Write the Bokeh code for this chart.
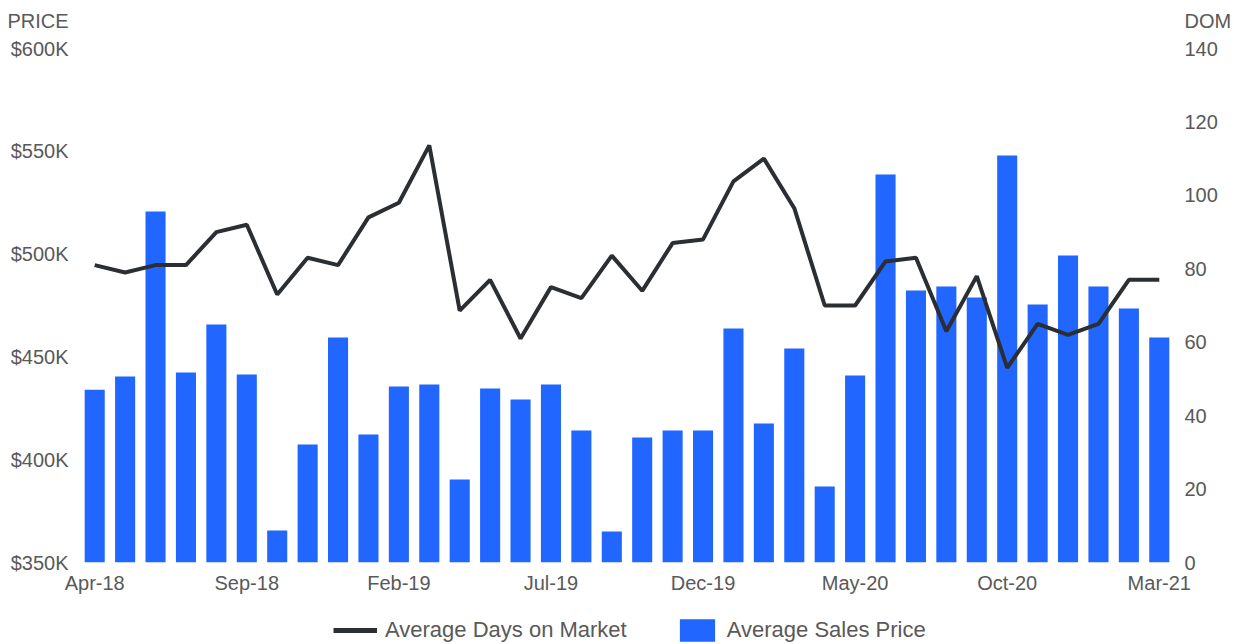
from bokeh.plotting import figure
from bokeh.layouts import column
from bokeh.models import Range1d, LinearAxis, FixedTicker, Legend, LegendItem
from bokeh.embed import file_html
from bokeh.resources import INLINE

months = ["Apr-18", "May-18", "Jun-18", "Jul-18", "Aug-18", "Sep-18", "Oct-18", "Nov-18",
          "Dec-18", "Jan-19", "Feb-19", "Mar-19", "Apr-19", "May-19", "Jun-19", "Jul-19",
          "Aug-19", "Sep-19", "Oct-19", "Nov-19", "Dec-19", "Jan-20", "Feb-20", "Mar-20",
          "Apr-20", "May-20", "Jun-20", "Jul-20", "Aug-20", "Sep-20", "Oct-20", "Nov-20",
          "Dec-20", "Jan-21", "Feb-21", "Mar-21"]

avg_sales_price = [434000, 440500, 520700, 442400, 465800, 441400, 365600, 407400,
                   459400, 412300, 435600, 436600, 390400, 434600, 429300, 436600,
                   414200, 365100, 410800, 414200, 414200, 463800, 417600, 454100,
                   387000, 441000, 538700, 482300, 484200, 478900, 548000, 475500,
                   499300, 484200, 473500, 459400]

avg_days_on_market = [81, 79, 81, 81, 90, 92, 73, 83,
                      81, 94, 98, 113.6, 68.6, 77, 61, 75,
                      72, 83.6, 74, 87, 88, 103.8, 110, 96.5,
                      70, 70, 82, 83, 63, 78, 53, 65,
                      62, 65, 77, 77]

price_ticks = [350000, 400000, 450000, 500000, 550000, 600000]
dom_ticks = [0, 20, 40, 60, 80, 100, 120, 140]
x_label_every = 5
left_title = "PRICE"
right_title = "DOM"
legend_labels = ["Average Days on Market", "Average Sales Price"]

TEXT_COLOR = "#595959"
FONT = "Liberation Sans"
BAR_COLOR = "#2166ff"
LINE_COLOR = "#2b2f33"

# layout (pixels)
W = 1234
H_MAIN, H_LEG = 600, 44
BORDER_L, BORDER_R, BORDER_T, BORDER_B = 79, 60, 20, 38
AXIS_TOP_GAP = 28          # distance from the top tick to the axis titles
plot_h = H_MAIN - BORDER_T - BORDER_B
data_h = plot_h - AXIS_TOP_GAP

price_span = price_ticks[-1] - price_ticks[0]
dom_span = dom_ticks[-1] - dom_ticks[0]
price_title_pos = price_ticks[-1] + AXIS_TOP_GAP * price_span / data_h
dom_title_pos = dom_ticks[-1] + AXIS_TOP_GAP * dom_span / data_h

x = list(range(len(months)))

p = figure(width=W, height=H_MAIN, output_backend="svg", toolbar_location=None,
           x_range=Range1d(-0.5, len(months) - 0.5),
           y_range=Range1d(price_ticks[0], price_title_pos),
           min_border_left=BORDER_L, min_border_right=BORDER_R,
           min_border_top=BORDER_T, min_border_bottom=BORDER_B)
p.extra_y_ranges = {"dom": Range1d(dom_ticks[0], dom_title_pos)}
p.xgrid.visible = False
p.ygrid.visible = False
p.outline_line_color = None

bars = p.vbar(x=x, top=avg_sales_price, bottom=price_ticks[0], width=0.66,
              fill_color=BAR_COLOR, line_color=None)
line = p.line(x, avg_days_on_market, y_range_name="dom", line_width=4,
              line_color=LINE_COLOR)

# x axis
xa = p.xaxis[0]
xa.ticker = FixedTicker(ticks=x[::x_label_every])
xa.major_label_overrides = {i: months[i] for i in x[::x_label_every]}
xa.major_label_standoff = 9

# left axis (price) with its title on top
ya = p.yaxis[0]
ya.ticker = FixedTicker(ticks=price_ticks + [price_title_pos])
overrides = {v: "$%dK" % (v // 1000) for v in price_ticks}
overrides[price_title_pos] = left_title
ya.major_label_overrides = overrides
ya.major_label_standoff = 11

# right axis (days on market) with its title on top
ra = LinearAxis(y_range_name="dom", ticker=FixedTicker(ticks=dom_ticks + [dom_title_pos]))
ra.major_label_overrides = {dom_title_pos: right_title}
ra.major_label_standoff = 10
p.add_layout(ra, "right")

for ax in [xa, ya, ra]:
    ax.axis_line_color = None
    ax.major_tick_line_color = None
    ax.minor_tick_line_color = None
    ax.major_tick_out = 0
    ax.major_tick_in = 0
    ax.major_label_text_font = FONT
    ax.major_label_text_font_size = "20px"
    ax.major_label_text_color = TEXT_COLOR

# legend strip below the chart (its frame is aligned with the chart's frame)
pl = figure(width=W, height=H_LEG, output_backend="svg", toolbar_location=None,
            x_axis_location=None, y_axis_location=None,
            x_range=Range1d(0, 1), y_range=Range1d(0, 1),
            min_border_left=0, min_border_right=0, min_border_top=0, min_border_bottom=0)
pl.xgrid.visible = False
pl.ygrid.visible = False
pl.outline_line_color = None
# legend swatches only: placed outside the visible range
leg_line = pl.line(x=[-3, -2], y=[-3, -3], line_width=5, line_color=LINE_COLOR)
leg_bar = pl.vbar(x=[-3], top=[-2], bottom=[-3], width=0.5,
                  fill_color=BAR_COLOR, line_color=None)

legend = Legend(items=[LegendItem(label=legend_labels[0], renderers=[leg_line]),
                       LegendItem(label=legend_labels[1], renderers=[leg_bar])],
                location=(256 - BORDER_L + 77, 0), orientation="horizontal", padding=0, margin=0,
                spacing=48, glyph_width=44, glyph_height=28, label_standoff=8,
                border_line_color=None, background_fill_alpha=0,
                label_text_font=FONT, label_text_font_size="22px",
                label_text_color=TEXT_COLOR)
pl.add_layout(legend)

open("out.html", "w").write(file_html(column(p, pl, spacing=0), INLINE))
